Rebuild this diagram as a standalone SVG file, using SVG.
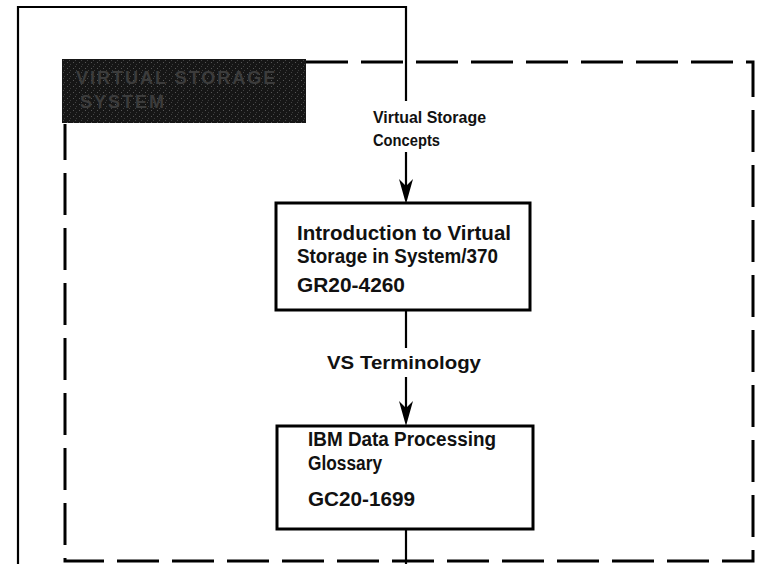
<svg xmlns="http://www.w3.org/2000/svg" width="762" height="564" viewBox="0 0 762 564">
<style>
.frame{fill:none;stroke:#000;stroke-width:2.2}
.dash{fill:none;stroke:#000;stroke-width:3;stroke-dasharray:42 13}
.box{fill:#fff;stroke:#000;stroke-width:3}
.conn{fill:none;stroke:#000;stroke-width:2.2}
.head{fill:#000}
.lbl{font-family:"Liberation Sans",Arial,sans-serif;font-weight:bold;font-size:16.5px;fill:#111}
.big{font-family:"Liberation Sans",Arial,sans-serif;font-weight:bold;font-size:19.5px;fill:#111}
.hdr{font-family:"Liberation Sans",Arial,sans-serif;font-weight:bold;font-size:18px;fill:#3c3c3c;letter-spacing:2px}
</style>
<defs>
<pattern id="noise" width="6" height="6" patternUnits="userSpaceOnUse">
<rect width="6" height="6" fill="#161616"/>
<rect x="1" y="2" width="1" height="1" fill="#555"/>
<rect x="4" y="4" width="1" height="1" fill="#3c3c3c"/>
<rect x="3" y="0" width="1" height="1" fill="#444"/>
</pattern>
</defs>

<g id="outer-frame">
<path class="frame" d="M18,564 L18,7 L406,7 L406,101"/>
</g>

<g id="dashed-frame">
<path class="dash" d="M306,62 L753,62 L753,561 L65,561 L65,124"/>
</g>

<g id="header">
<rect x="62" y="59" width="244" height="64" fill="url(#noise)"/>
<text class="hdr" x="76" y="84">VIRTUAL STORAGE</text>
<text class="hdr" x="80" y="108">SYSTEM</text>
</g>

<g id="connectors">
<line class="conn" x1="406" y1="152" x2="406" y2="190"/>
<path class="head" d="M399,179 L406,186 L413,179 L406,204 Z"/>
<line class="conn" x1="406" y1="310" x2="406" y2="348"/>
<line class="conn" x1="406" y1="377" x2="406" y2="412"/>
<path class="head" d="M399,401 L406,408 L413,401 L406,426 Z"/>
<line class="conn" x1="406" y1="529" x2="406" y2="564"/>
<text class="lbl" x="373" y="123" textLength="113" lengthAdjust="spacingAndGlyphs">Virtual Storage</text>
<text class="lbl" x="373" y="146" textLength="67" lengthAdjust="spacingAndGlyphs">Concepts</text>
<text class="lbl" x="327" y="369" style="font-size:18.5px" textLength="154" lengthAdjust="spacingAndGlyphs">VS Terminology</text>
</g>

<g id="node-intro">
<rect class="box" x="276" y="203" width="254" height="107"/>
<text class="big" x="297" y="240" textLength="214" lengthAdjust="spacingAndGlyphs">Introduction to Virtual</text>
<text class="big" x="297" y="263" textLength="201" lengthAdjust="spacingAndGlyphs">Storage in System/370</text>
<text class="big" x="297" y="292" textLength="108" lengthAdjust="spacingAndGlyphs">GR20-4260</text>
</g>

<g id="node-glossary">
<rect class="box" x="277" y="426" width="256" height="103"/>
<text class="big" x="308" y="446" textLength="188" lengthAdjust="spacingAndGlyphs">IBM Data Processing</text>
<text class="big" x="308" y="470" textLength="74" lengthAdjust="spacingAndGlyphs">Glossary</text>
<text class="big" x="308" y="506" textLength="107" lengthAdjust="spacingAndGlyphs">GC20-1699</text>
</g>
</svg>
